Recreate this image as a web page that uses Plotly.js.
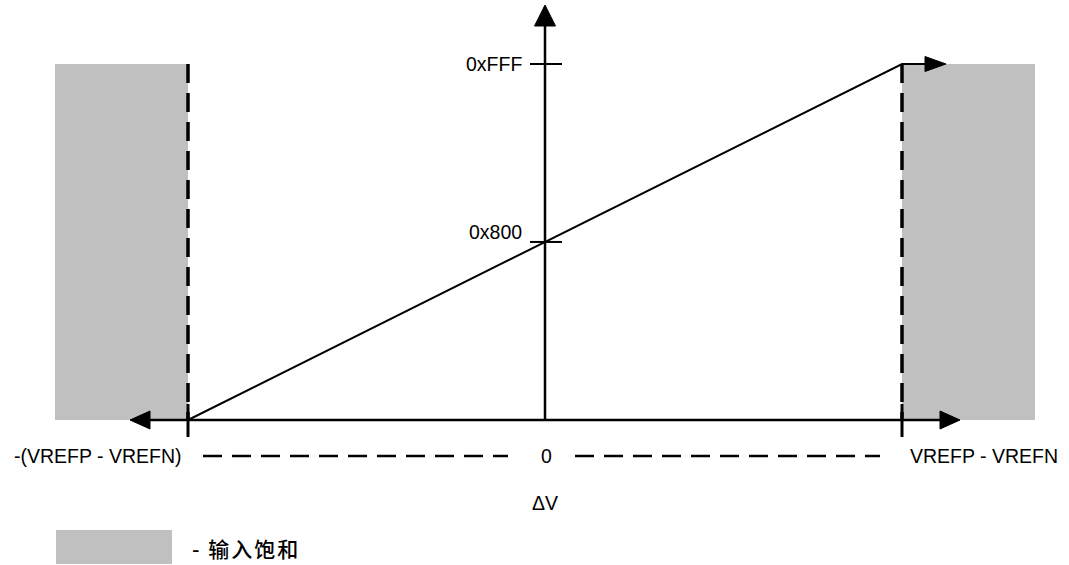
<!DOCTYPE html>
<html>
<head>
<meta charset="utf-8">
<script src="https://cdn.plot.ly/plotly-3.0.1.min.js"></script>
<style>html,body{margin:0;padding:0;background:#fff;}#chart{width:1069px;height:565px;}</style>
</head>
<body>
<div id="chart"></div>
<script>
// ---- data ----
const vValues = [-1, 0, 1];                                   // ΔV, normalised to VREFP - VREFN
const vLabels = ['-(VREFP - VREFN)', '0', 'VREFP - VREFN'];
const codeValues = [0x800, 0xFFF];
const codeLabels = ['0x800', '0xFFF'];
const transferX = [-1, 0, 1];
const transferY = [0x000, 0x800, 0xFFF];
const axisTitle = 'ΔV';
const legendLabel = '- 输入饱和';

// ---- scale (pixels per data unit) ----
const W = 1069, H = 565;
const X0PX = 545, XPX = 357;             // pixel of ΔV = 0, pixels per unit
const Y0PX = 420, YPX = 356 / 0xFFF;     // pixel of code 0, pixels per code
const dx = p => p / XPX, dy = p => p / YPX;
const px2x = p => (p - X0PX) / XPX;
const px2y = p => (Y0PX - p) / YPX;

const xMin = vValues[0], xMax = vValues[vValues.length - 1];
const yTop = codeValues[codeValues.length - 1];

const black = '#000';
const grey = '#c0c0c0';
const font = {family: 'Liberation Sans, Arial, sans-serif', size: 19.5, color: '#000'};

const shapes = [];
const line = (x0, y0, x1, y1, width, dash) => shapes.push({type: 'line', x0, y0, x1, y1, xref: 'x', yref: 'y', layer: 'above', line: {color: black, width, dash: dash || 'solid'}});
const tri = (pts) => shapes.push({type: 'path', xref: 'x', yref: 'y', layer: 'above', path: 'M' + pts.map(p => p[0] + ',' + p[1]).join(' L') + ' Z', fillcolor: black, line: {color: black, width: 1}});

// saturation regions
const satW = dx(133);
shapes.push({type: 'rect', xref: 'x', yref: 'y', x0: xMin - satW, x1: xMin, y0: transferY[0], y1: yTop, fillcolor: grey, line: {width: 0}, layer: 'below'});
shapes.push({type: 'rect', xref: 'x', yref: 'y', x0: xMax, x1: xMax + satW, y0: transferY[0], y1: yTop, fillcolor: grey, line: {width: 0}, layer: 'below'});

// x axis with arrows on both ends
const xArrowTip = dx(415), arrowLen = dx(20), arrowHalf = dy(9);
line(-xArrowTip + arrowLen, 0, xArrowTip - arrowLen, 0, 2.5);
tri([[-xArrowTip, 0], [-xArrowTip + arrowLen, arrowHalf], [-xArrowTip + arrowLen, -arrowHalf]]);
tri([[xArrowTip, 0], [xArrowTip - arrowLen, arrowHalf], [xArrowTip - arrowLen, -arrowHalf]]);

// y axis with arrow
const yArrowTip = px2y(5), yArrowLen = dy(21), yArrowHalf = dx(10.5);
line(0, 0, 0, yArrowTip - yArrowLen, 2.5);
tri([[0, yArrowTip], [-yArrowHalf, yArrowTip - yArrowLen], [yArrowHalf, yArrowTip - yArrowLen]]);

// y ticks
codeValues.forEach(c => line(dx(-15), c, dx(17), c, 2));

// saturation boundaries (dashed) + ticks through x axis
[xMin, xMax].forEach(v => {
  line(v, yTop, v, 0, 3.5, '19px,10px');
  line(v, dy(16), v, -dy(17), 3);
});

// bottom dashed guide lines
const guideY = -dy(36);
line(xMin + dx(15), guideY, -dx(37), guideY, 2.5, '19px,10px');
line(dx(30), guideY, xMax - dx(22), guideY, 2.5, '19px,10px');

// saturation output arrow (top right)
const satArrowTip = xMax + dx(44), satArrowLen = dx(21), satArrowHalf = dy(7.5);
tri([[satArrowTip, yTop], [satArrowTip - satArrowLen, yTop + satArrowHalf], [satArrowTip - satArrowLen, yTop - satArrowHalf]]);

// legend swatch
shapes.push({type: 'rect', xref: 'x', yref: 'y', x0: px2x(56), x1: px2x(172), y0: px2y(530), y1: px2y(564), fillcolor: grey, line: {width: 0}, layer: 'below'});

// ---- traces ----
const traces = [{
  type: 'scatter', mode: 'lines',
  x: transferX.concat([satArrowTip - satArrowLen]),
  y: transferY.concat([yTop]),
  line: {color: black, width: 2}, hoverinfo: 'skip', showlegend: false
}];

// ---- annotations ----
const ann = (x, y, text, xanchor, extra) => Object.assign({x, y, xref: 'x', yref: 'y', text, showarrow: false, xanchor, yanchor: 'middle', font}, extra || {});
const annotations = [];
annotations.push(ann(xMin - dx(4), guideY, vLabels[0], 'right'));
annotations.push(ann(vValues[1] + dx(1), guideY, vLabels[1], 'center'));
annotations.push(ann(xMax + dx(6), guideY, vLabels[2], 'left'));
annotations.push(ann(-dx(21), codeValues[0] + dy(10), codeLabels[0], 'right'));
annotations.push(ann(-dx(21), codeValues[1], codeLabels[1], 'right'));
annotations.push(ann(0, px2y(503), axisTitle, 'center'));
annotations.push(ann(px2x(196), px2y(548), legendLabel, 'left', {font: {family: 'Noto Sans CJK SC, sans-serif', size: 21, weight: 500, color: '#000'}}));

const layout = {
  width: W, height: H,
  margin: {l: 0, r: 0, t: 0, b: 0, pad: 0},
  paper_bgcolor: '#fff', plot_bgcolor: '#fff',
  xaxis: {range: [px2x(0), px2x(W)], visible: false, fixedrange: true},
  yaxis: {range: [px2y(H), px2y(0)], visible: false, fixedrange: true},
  shapes, annotations, showlegend: false
};

Plotly.newPlot('chart', traces, layout, {staticPlot: true, displayModeBar: false}).then(gd => {
  gd.querySelectorAll('.annotation-text').forEach(t => {
    if (t.textContent === legendLabel) t.setAttribute('letter-spacing', '2px');
  });
});
</script>
</body>
</html>
